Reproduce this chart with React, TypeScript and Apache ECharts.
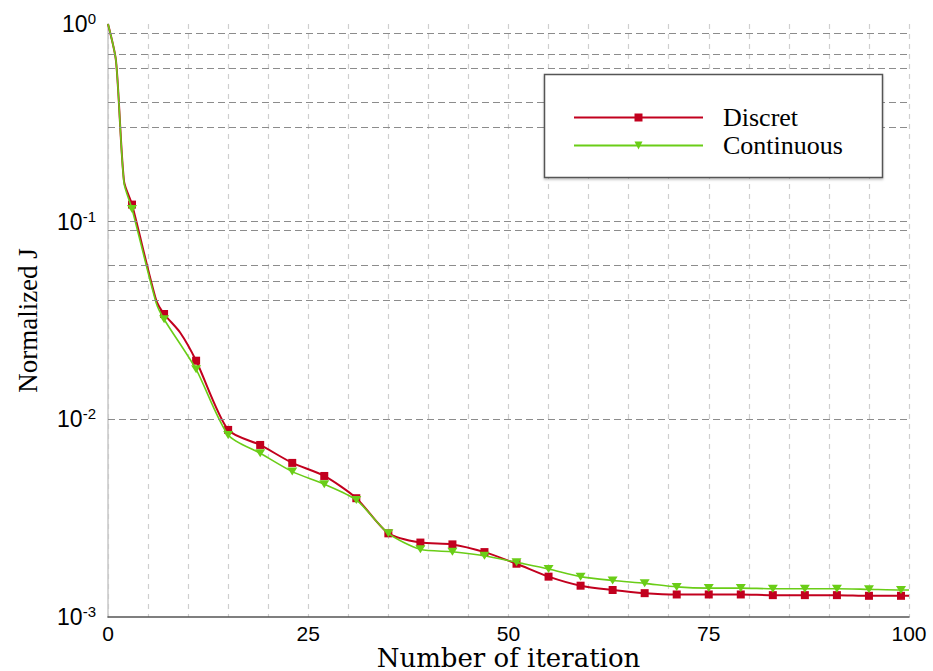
import React, { useEffect, useRef } from "react";
import * as echarts from "echarts";

const iterDiscret = [0, 1, 2, 3, 6, 7, 9, 11, 15, 19, 23, 27, 31, 35, 39, 43, 47, 51, 55, 59, 63, 67, 71, 75, 79, 83, 87, 91, 95, 99, 100];
const jDiscret = [1.0, 0.65, 0.16, 0.122, 0.0402, 0.0341, 0.0275, 0.0198, 0.00884, 0.00742, 0.00602, 0.00517, 0.00399, 0.00265, 0.00238, 0.00233, 0.00213, 0.00186, 0.0016, 0.00144, 0.00137, 0.00132, 0.0013, 0.0013, 0.0013, 0.00129, 0.00129, 0.00129, 0.00128, 0.00128, 0.00128];

const iterCont = [0, 1, 2, 3, 6, 7, 11, 15, 19, 23, 27, 31, 35, 39, 43, 47, 51, 55, 59, 63, 67, 71, 75, 79, 83, 87, 91, 95, 99, 100];
const jCont = [1.0, 0.65, 0.157, 0.116, 0.039, 0.0321, 0.0179, 0.00834, 0.00674, 0.00544, 0.0047, 0.00391, 0.00265, 0.0022, 0.00214, 0.00204, 0.00189, 0.00175, 0.0016, 0.00153, 0.00148, 0.00142, 0.0014, 0.0014, 0.00139, 0.00139, 0.00139, 0.00138, 0.00137, 0.00137];

// horizontal dashed grid lines as they appear in the reference
const hGrid = [0.9, 0.7, 0.6, 0.4, 0.3, 0.1, 0.09, 0.06, 0.05, 0.04, 0.01, 0.009, 0.006, 0.004];
const xLabels = [0, 25, 50, 75, 100];

const seriesNames = ["Discret", "Continuous"];
const RED = "#c2001e";
const GREEN = "#6acd17";

const isMarker = (x: number) => x >= 3 && x <= 99 && (x - 3) % 4 === 0;

function build(xs: number[], ys: number[]) {
  return xs.map((x, i) =>
    isMarker(x) ? { value: [x, ys[i]] } : { value: [x, ys[i]], symbol: "none" }
  );
}

export default function App() {
  const ref = useRef<HTMLDivElement>(null);
  useEffect(() => {
    if (!ref.current) return;
    const chart = echarts.init(ref.current, null, { renderer: "svg" });
    chart.setOption({
      animation: false,
      backgroundColor: "#fff",
      grid: { left: 108, right: 24, top: 24, bottom: 54, containLabel: false, outerBoundsMode: "none" },
      xAxis: {
        type: "value",
        min: 0,
        max: 100,
        interval: 5,
        name: "Number of iteration",
        nameLocation: "middle",
        nameGap: 27,
        nameMoveOverlap: false,
        nameTextStyle: { fontFamily: "DejaVu Serif", fontSize: 26, lineHeight: 27, color: "#000" },
        axisLine: { show: true, lineStyle: { color: "#555", width: 1.5 } },
        axisTick: { show: false },
        axisLabel: {
          margin: 6,
          fontFamily: "Liberation Sans",
          fontSize: 21,
          lineHeight: 20,
          color: "#000",
          formatter: (v: number) => (xLabels.includes(v) ? String(v) : ""),
        },
        splitLine: { show: true, lineStyle: { color: "#cfcfcf", width: 1.2, type: [5, 5] } },
      },
      yAxis: {
        type: "log",
        logBase: 10,
        min: 0.001,
        max: 1,
        name: "Normalized J",
        nameLocation: "middle",
        nameGap: 67,
        nameMoveOverlap: false,
        nameTextStyle: { fontFamily: "Liberation Serif", fontSize: 27, color: "#000" },
        axisLine: { show: true, lineStyle: { color: "#c8c8c8", width: 1.5 } },
        axisTick: { show: false },
        splitLine: { show: false },
        axisLabel: {
          margin: 12,
          formatter: (v: number) => `{b|10}{s|${Math.round(Math.log10(v))}}`,
          rich: {
            b: { fontFamily: "Liberation Sans", fontSize: 23, color: "#000", lineHeight: 26 },
            s: { fontFamily: "Liberation Sans", fontSize: 15, color: "#000", verticalAlign: "top" },
          },
        },
      },
      legend: {
        orient: "vertical",
        left: 573,
        top: 104,
        padding: 0,
        z: 100,
        itemWidth: 129,
        itemHeight: 10,
        itemGap: 1,
        data: seriesNames,
        textStyle: {
          fontFamily: "Liberation Serif",
          fontSize: 26,
          lineHeight: 27,
          color: "#000",
          padding: [0, 0, 0, 15],
        },
      },
      graphic: [
        {
          type: "rect",
          z: 50,
          shape: { x: 544.5, y: 74.5, width: 338, height: 103 },
          style: {
            fill: "#fff",
            stroke: "#555",
            lineWidth: 1.5,
            shadowBlur: 2,
            shadowOffsetY: 1.5,
            shadowColor: "rgba(0,0,0,0.25)",
          },
        },
      ],
      series: [
        {
          name: "grid",
          type: "line",
          data: [],
          z: 1,
          silent: true,
          markLine: {
            silent: true,
            symbol: "none",
            label: { show: false },
            lineStyle: { color: "#8c8c8c", width: 1.2, type: [7, 4] },
            data: hGrid.map((v) => ({ yAxis: v })),
          },
        },
        {
          name: seriesNames[0],
          type: "line",
          z: 3,
          smooth: 0.25,
          data: build(iterDiscret, jDiscret),
          symbol: "rect",
          symbolSize: 8,
          showAllSymbol: true,
          lineStyle: { color: RED, width: 2 },
          itemStyle: { color: RED },
        },
        {
          name: seriesNames[1],
          type: "line",
          z: 4,
          smooth: 0.25,
          data: build(iterCont, jCont),
          symbol: "triangle",
          symbolRotate: 180,
          symbolSize: [10, 8],
          showAllSymbol: true,
          lineStyle: { color: GREEN, width: 1.6 },
          itemStyle: { color: GREEN },
        },
      ],
    });
    return () => chart.dispose();
  }, []);
  return (
    <div
      ref={ref}
      style={{ position: "fixed", left: 0, top: 0, width: 933, height: 671 }}
    />
  );
}
